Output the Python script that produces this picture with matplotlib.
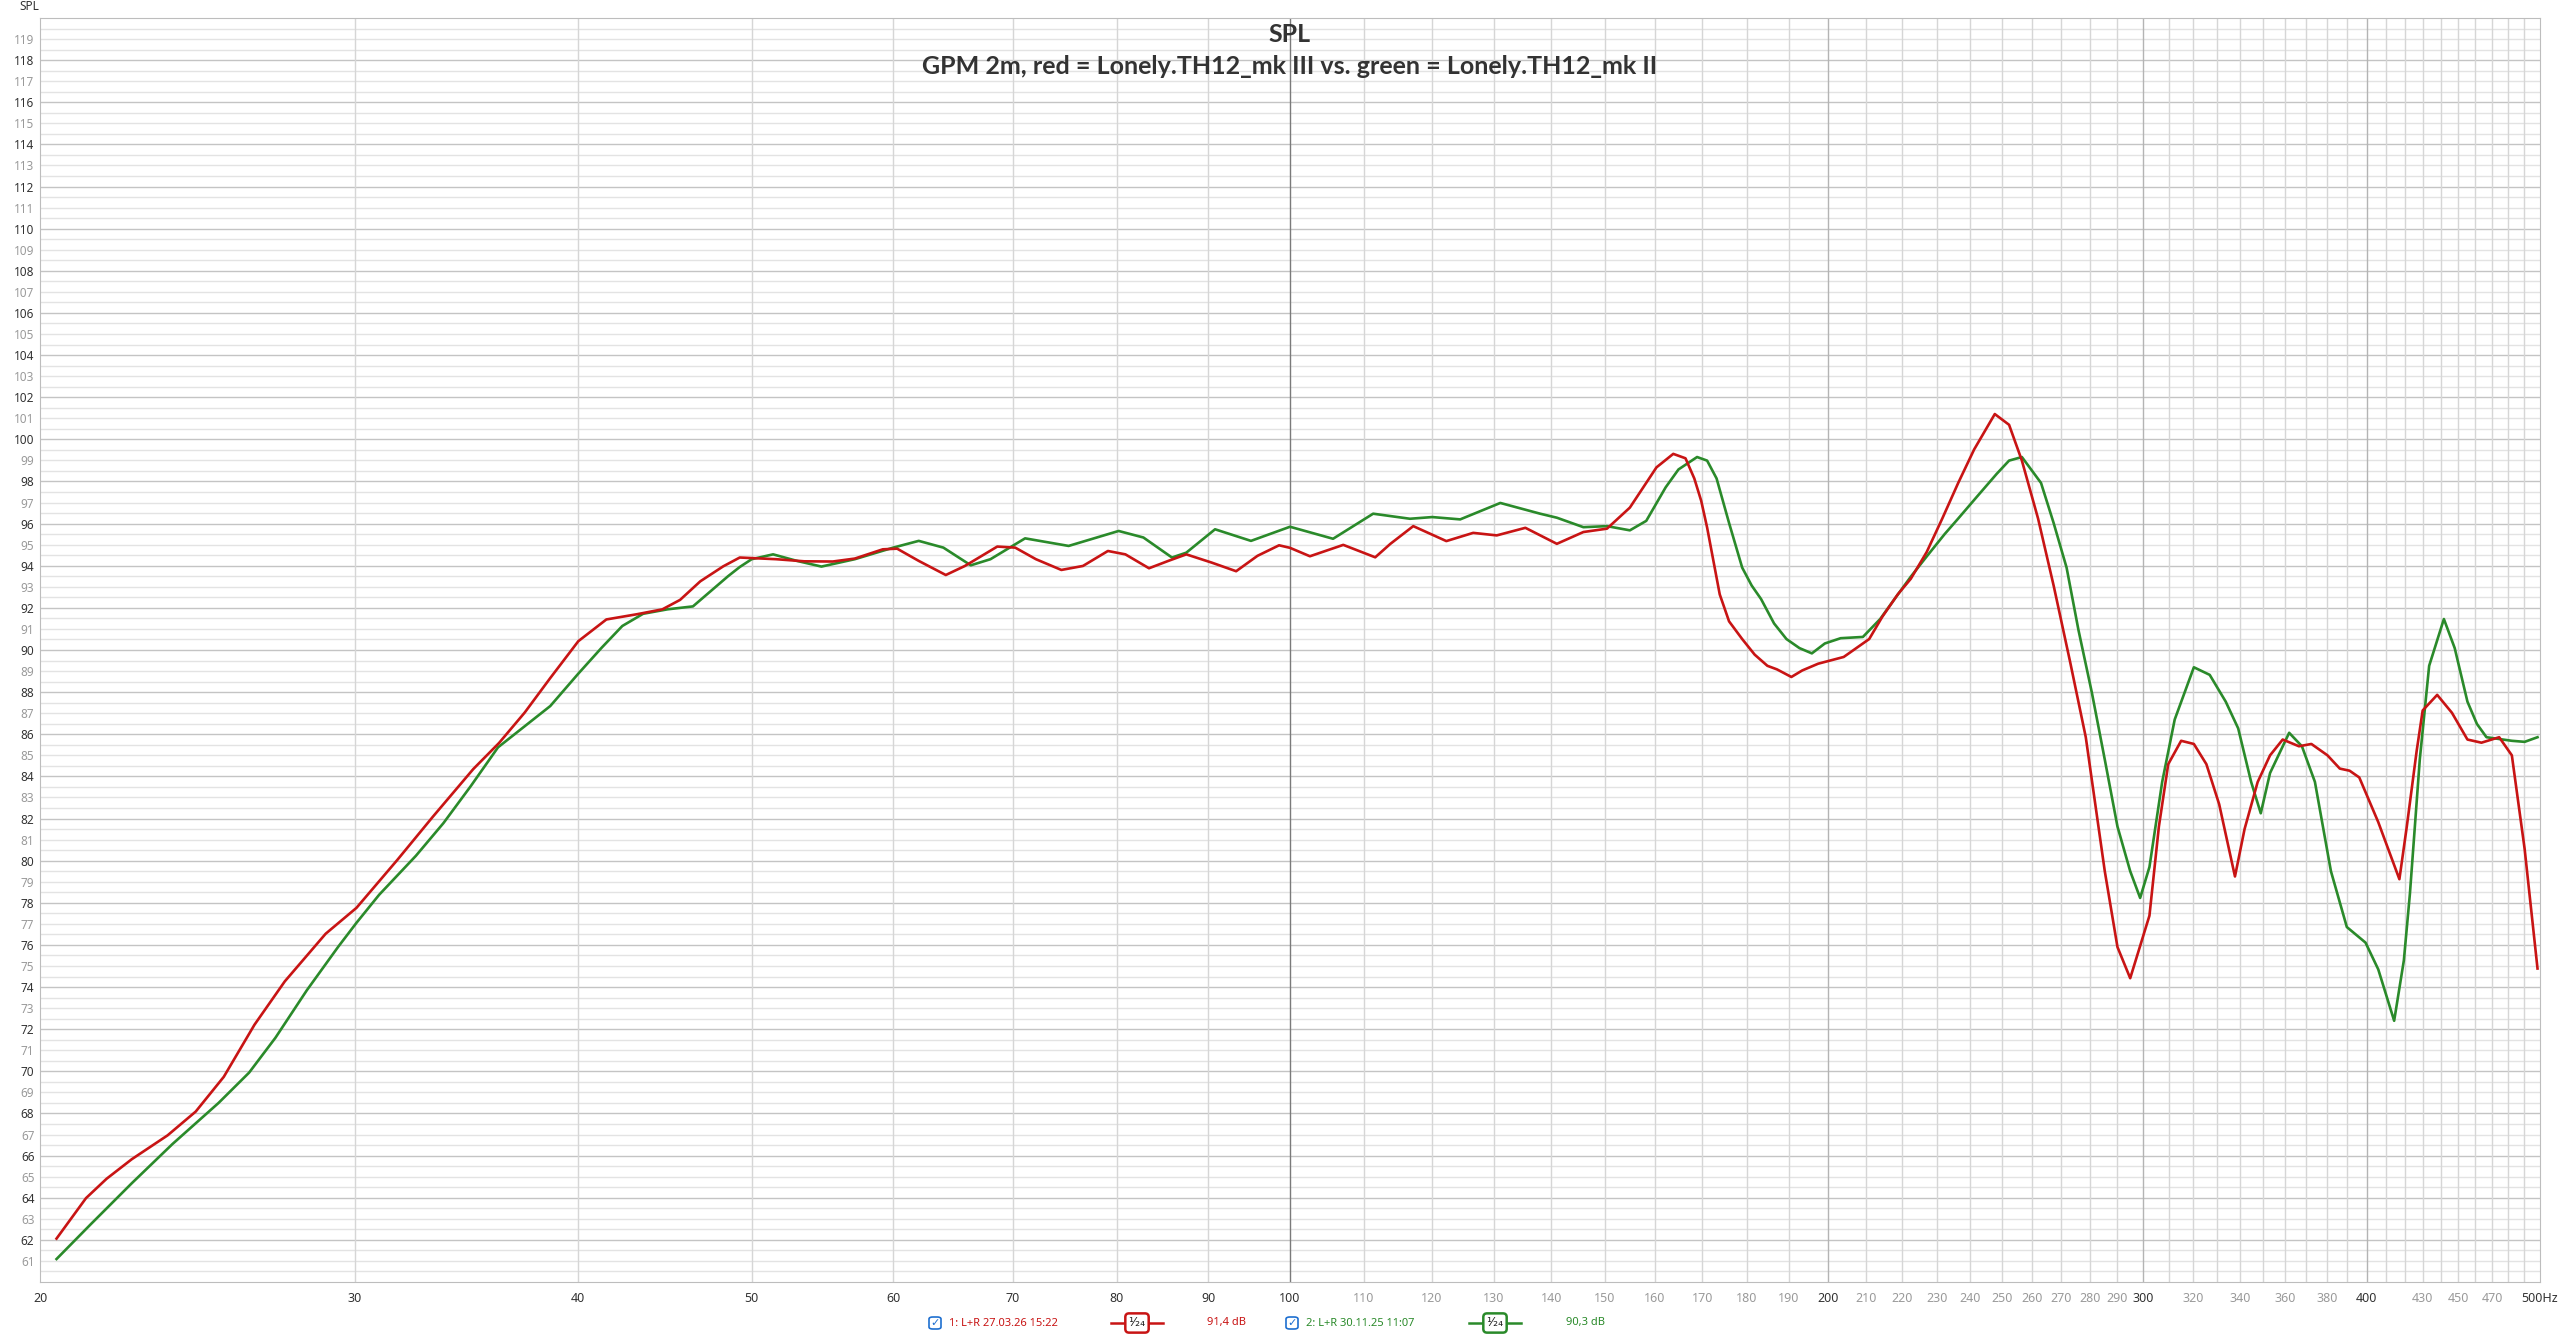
"""SPL comparison: Lonely.TH12 mk III (red) vs mk II (green)."""
import matplotlib
matplotlib.use("Agg")
import matplotlib.pyplot as plt
from matplotlib.patches import FancyBboxPatch
from matplotlib.lines import Line2D
import numpy as np

plt.rcParams.update({"font.family": ["Noto Sans", "DejaVu Sans"], "font.size": 9})

# values (Hz, dB)
red_f = [20.43, 21.22, 21.79, 22.51, 23.57, 24.44, 25.34, 26.36, 27.41, 28.89, 30.06, 31.68, 33.17,
         34.94, 36.12, 37.33, 38.58, 40.0, 41.47, 43.15, 44.57, 45.6, 46.8, 48.2, 49.24, 51.6, 53.5,
         55.5, 57.1, 59.2, 60.3, 62.0, 64.2, 65.8, 68.6, 70.2, 72.1, 74.5, 76.6, 79.1, 80.9, 83.4,
         85.5, 87.5, 90.4, 93.3, 95.9, 98.6, 100.0, 102.6, 107.1, 111.6, 113.8, 117.2, 122.3, 126.6,
         130.5, 135.4, 141.0, 145.9, 150.4, 154.9, 160.3, 163.8, 166.4, 168.3, 169.8, 171.1, 173.9,
         176.0, 179.0, 181.9, 184.9, 187.2, 190.7, 193.4, 197.4, 204.0, 210.8, 214.4, 218.7, 222.4,
         227.0, 231.6, 236.4, 241.3, 247.8, 252.4, 256.6, 262.0, 267.3, 273.0, 278.6, 285.5, 290.2,
         295.0, 302.4, 306.1, 309.8, 315.0, 320.2, 325.4, 330.8, 337.6, 341.8, 347.6, 353.2, 359.0,
         366.6, 372.5, 380.3, 386.4, 391.3, 396.2, 406.0, 417.2, 421.2, 426.6, 429.9, 438.0, 446.4,
         455.4, 463.7, 474.4, 482.2, 490.2, 498.4]
red_db = [62.06, 63.98, 64.9, 65.83, 66.96, 68.09, 69.74, 72.21, 74.27, 76.53, 77.76, 80.03, 82.09,
          84.35, 85.59, 87.03, 88.67, 90.42, 91.45, 91.70, 91.93, 92.38, 93.26, 93.97, 94.39, 94.31, 94.21,
          94.2, 94.34, 94.78, 94.81, 94.23, 93.56, 93.99, 94.91, 94.86, 94.31, 93.8, 93.99, 94.7, 94.54, 93.88,
          94.23, 94.54, 94.15, 93.74, 94.47, 94.97, 94.85, 94.45, 94.99, 94.4, 95.04, 95.88, 95.17, 95.56,
          95.44, 95.8, 95.04, 95.6, 95.76, 96.76, 98.67, 99.31, 99.1, 98.14, 97.08, 95.81, 92.64,
          91.36, 90.52, 89.78, 89.25, 89.08, 88.72, 89.03, 89.35, 89.67, 90.52, 91.58, 92.64, 93.38,
          94.65, 96.24, 97.93, 99.52, 101.2, 100.69, 98.99, 96.24, 93.06, 89.46, 85.86, 79.5, 75.9,
          74.42, 77.39, 81.62, 84.58, 85.69, 85.54, 84.58, 82.68, 79.25, 81.5, 83.73, 85.0, 85.75,
          85.43, 85.54, 85.0, 84.37, 84.27, 83.95, 81.83, 79.12, 81.62, 85.22, 87.13, 87.87, 87.02,
          85.75, 85.6, 85.86, 85.0, 80.56, 74.88]

green_f = [20.43, 21.35, 22.51, 23.72, 25.17, 26.18, 27.08, 28.2, 29.36, 30.06, 30.95, 32.45, 33.62,
           34.82, 36.07, 38.58, 40.0, 41.22, 42.33, 43.48, 44.86, 46.36, 48.5, 49.24, 50.0, 51.4, 53.0,
           54.7, 57.1, 60.0, 62.0, 64.0, 66.3, 68.0, 71.1, 75.2, 80.2, 82.8, 85.9, 87.5, 90.8, 95.1,
           100.0, 105.7, 111.3, 116.7, 120.1, 124.5, 131.1, 138.0, 141.0, 145.9, 150.4, 154.9, 158.2,
           162.2, 164.9, 168.9, 171.1, 173.2, 176.0, 179.0, 181.2, 183.4, 186.5, 189.5, 192.7, 195.8,
           199.1, 203.2, 209.1, 213.8, 217.8, 222.4, 227.0, 232.3, 236.4, 242.3, 248.4, 252.4, 256.6,
           263.0, 267.3, 271.8, 276.0, 280.8, 285.5, 290.2, 295.0, 298.8, 302.4, 307.4, 312.4, 320.2,
           326.8, 333.6, 339.0, 344.7, 349.0, 353.2, 362.0, 368.0, 374.2, 382.0, 389.9, 399.4, 406.0,
           414.4, 419.6, 422.9, 428.3, 433.5, 441.8, 448.0, 455.4, 461.0, 466.7, 482.2, 490.2, 498.4]
green_db = [61.09, 62.74, 64.69, 66.55, 68.5, 69.94, 71.59, 73.85, 75.91, 77.05, 78.38, 80.23, 81.78,
            83.53, 85.38, 87.34, 88.88, 90.11, 91.14, 91.72, 91.93, 92.07, 93.5, 93.94, 94.31, 94.54, 94.23,
            93.96, 94.31, 94.86, 95.18, 94.86, 94.02, 94.31, 95.3, 94.94, 95.65, 95.34, 94.39, 94.62, 95.73, 95.18,
            95.85, 95.28, 96.47, 96.23, 96.31, 96.2, 96.98, 96.47, 96.28, 95.83, 95.88, 95.68, 96.13,
            97.72, 98.57, 99.16, 98.99, 98.14, 96.03, 93.91, 93.06, 92.42, 91.26, 90.52, 90.09, 89.84,
            90.31, 90.56, 90.62, 91.47, 92.42, 93.48, 94.44, 95.5, 96.24, 97.3, 98.36, 98.99, 99.16,
            97.93, 96.03, 93.91, 90.94, 87.97, 84.8, 81.62, 79.5, 78.23, 79.7, 83.74, 86.7, 89.18,
            88.82, 87.55, 86.28, 83.74, 82.25, 84.16, 86.07, 85.43, 83.74, 79.5, 76.85, 76.11, 74.84,
            72.4, 75.26, 78.44, 84.8, 89.25, 91.47, 90.09, 87.55, 86.49, 85.86, 85.69, 85.64, 85.86]

xtick_vals = [20, 30, 40, 50, 60, 70, 80, 90, 100, 110, 120, 130, 140, 150, 160, 170, 180, 190, 200,
              210, 220, 230, 240, 250, 260, 270, 280, 290, 300, 320, 340, 360, 380, 400, 430, 450, 470, 500]
dark_x = [20, 30, 40, 50, 60, 70, 80, 90, 100, 200, 300, 400, 500]

RED = "#c81414"
GREEN = "#2a8a2a"
W, H = 2560, 1334

fig = plt.figure(figsize=(25.6, 13.34), dpi=100)
ax = fig.add_axes([40 / W, 1 - 1282 / H, 2500 / W, 1264 / H])
ax.set_xscale("log")
ax.set_xlim(20, 500)
ax.set_ylim(60, 120)

# grid: 0.5 dB lines, darker every 2 dB; 10 Hz lines, darker at 100/200/300/400
for v in np.arange(60.5, 120, 0.5):
    ax.axhline(v, color="#c4c4c4" if v % 2 == 0 else "#e3e3e3", lw=1.0, zorder=0)
for f in range(30, 500, 10):
    c = "#7a7a7a" if f == 100 else "#b4b4b4" if f in (200, 300, 400) else "#d6d6d6"
    ax.axvline(f, color=c, lw=1.0, zorder=0)
for s in ax.spines.values():
    s.set_color("#bdbdbd")

ax.plot(green_f, green_db, color=GREEN, lw=1.9, zorder=3, solid_joinstyle="round")
ax.plot(red_f, red_db, color=RED, lw=1.9, zorder=4, solid_joinstyle="round")

ax.xaxis.set_minor_locator(matplotlib.ticker.NullLocator())
ax.set_xticks(xtick_vals)
ax.set_xticklabels([("500Hz" if v == 500 else str(v)) for v in xtick_vals], fontsize=9)
for lab, v in zip(ax.get_xticklabels(), xtick_vals):
    lab.set_color("#333333" if v in dark_x else "#9a9a9a")
yt = list(range(61, 120))
ax.set_yticks(yt)
ax.set_yticklabels([str(v) for v in yt], fontsize=8.5)
for lab, v in zip(ax.get_yticklabels(), yt):
    lab.set_color("#333333" if v % 2 == 0 else "#9a9a9a")
ax.tick_params(length=0, pad=4)
ax.tick_params(axis="x", pad=7)

fig.text(29 / W, 1 - 7 / H, "SPL", fontsize=8.5, color="#333333", ha="center", va="center")
fig.text(1290 / W, 1 - 34 / H, "SPL", family=["Lato", "DejaVu Sans"], fontsize=18, fontweight="bold",
         color="#333333", ha="center", va="center")
fig.text(1290 / W, 1 - 67 / H, "GPM 2m, red = Lonely.TH12_mk III vs. green = Lonely.TH12_mk II",
         family=["Lato", "DejaVu Sans"], fontsize=18, fontweight="bold", color="#333333",
         ha="center", va="center")

# legend strip at the bottom
def px(x, y):
    return x / W, 1 - y / H

def checkbox(x, y):
    fig.patches.append(FancyBboxPatch(px(x - 6, y + 6), 12 / W, 12 / H, boxstyle="round,pad=0,rounding_size=0.0015",
                                      transform=fig.transFigure, fc="white", ec="#1e6fd0", lw=1.2))
    fig.text(*px(x, y), "\u2713", family="DejaVu Sans", fontsize=8, color="#1e6fd0", ha="center", va="center")

def smooth_box(x, y, color):
    fig.add_artist(Line2D([(x - 26) / W, (x + 26) / W], [1 - y / H] * 2, color=color, lw=1.8))
    fig.text(*px(x, y), "\u00b9\u2044\u2082\u2084", family="DejaVu Sans", fontsize=9, color="#222222",
             ha="center", va="center",
             bbox=dict(boxstyle="round,pad=0.25,rounding_size=0.3", fc="white", ec=color, lw=1.8))

ly = 1323
checkbox(935, ly)
fig.text(*px(949, ly), "1: L+R 27.03.26 15:22", fontsize=8, color=RED, va="center")
smooth_box(1137, ly, RED)
fig.text(*px(1207, ly), "91,4 dB", fontsize=8, color=RED, va="center")
checkbox(1292, ly)
fig.text(*px(1306, ly), "2: L+R 30.11.25 11:07", fontsize=8, color=GREEN, va="center")
smooth_box(1495, ly, GREEN)
fig.text(*px(1566, ly), "90,3 dB", fontsize=8, color=GREEN, va="center")

fig.savefig("out.png", dpi=100)
